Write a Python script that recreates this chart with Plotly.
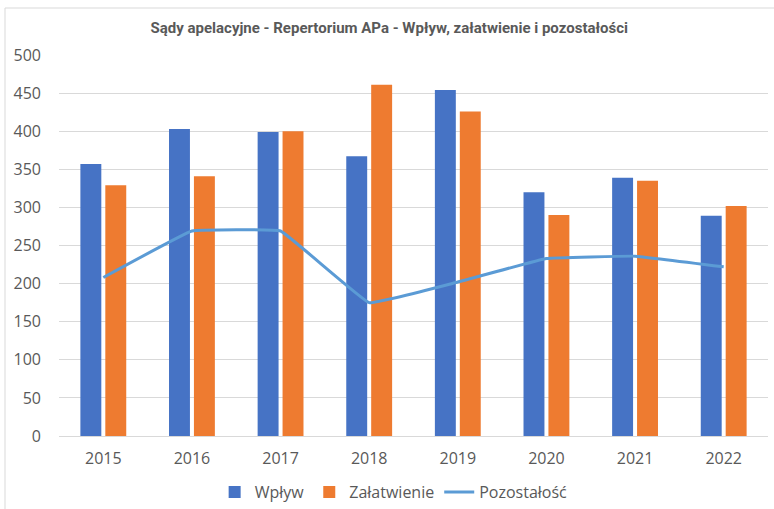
import plotly.graph_objects as go

years = ["2015", "2016", "2017", "2018", "2019", "2020", "2021", "2022"]
wplyw = [357, 403, 399, 367, 454, 320, 339, 289]
zalatwienie = [329, 341, 400, 461, 426, 290, 335, 302]
pozostalosc = [208, 269, 269, 175, 202, 233, 236, 222]

y_ticks = list(range(0, 501, 50))

TEXT = "#595959"
FONT = "Open Sans"

fig = go.Figure()
fig.add_trace(go.Bar(
    x=years, y=wplyw, name="Wpływ",
    marker=dict(color="#4673C5", line=dict(width=0)),
))
fig.add_trace(go.Bar(
    x=years, y=zalatwienie, name="Załatwienie",
    marker=dict(color="#EE7B30", line=dict(width=0)),
))
fig.add_trace(go.Scatter(
    x=years, y=pozostalosc, name="Pozostałość", mode="lines",
    line=dict(color="#5B9BD5", width=3, shape="spline", smoothing=0.2),
))

fig.update_layout(
    width=774, height=509,
    margin=dict(l=59, r=6, t=55, b=73),
    paper_bgcolor="white", plot_bgcolor="white",
    barmode="group", bargap=0.4375, bargroupgap=0.16,
    font=dict(family=FONT, color=TEXT, size=16),
    title=dict(
        text="<b>Sądy apelacyjne - Repertorium APa - Wpływ, załatwienie i pozostałości</b>",
        x=0.503, xanchor="center", xref="container",
        y=1 - 28 / 509, yanchor="middle", yref="container",
        font=dict(family="Roboto", size=15, color=TEXT),
    ),
    showlegend=True,
    legend=dict(
        orientation="h", x=0.472, xanchor="center",
        y=1 - 492 / 509, yanchor="middle", yref="container",
        font=dict(family=FONT, size=16, color=TEXT),
        itemwidth=30, traceorder="normal",
    ),
    xaxis=dict(
        showgrid=False, showline=True, linecolor="#D9D9D9", linewidth=1,
        ticks="", tickfont=dict(size=16, color=TEXT), ticklabelstandoff=8,
    ),
    yaxis=dict(
        range=[0, 500], tickvals=y_ticks, showgrid=True,
        gridcolor="#D9D9D9", gridwidth=1, zeroline=False, showline=False,
        ticks="", tickfont=dict(size=16, color=TEXT), ticklabelstandoff=17,
    ),
    shapes=[dict(
        type="rect", xref="paper", yref="paper",
        x0=(5 - 59) / 709, x1=(790 - 59) / 709,
        y0=(436 - 520) / 381, y1=(436 - 8) / 381,
        line=dict(color="#D9D9D9", width=1), fillcolor="rgba(0,0,0,0)",
        layer="below",
    )],
)

fig.write_html("out.html")
